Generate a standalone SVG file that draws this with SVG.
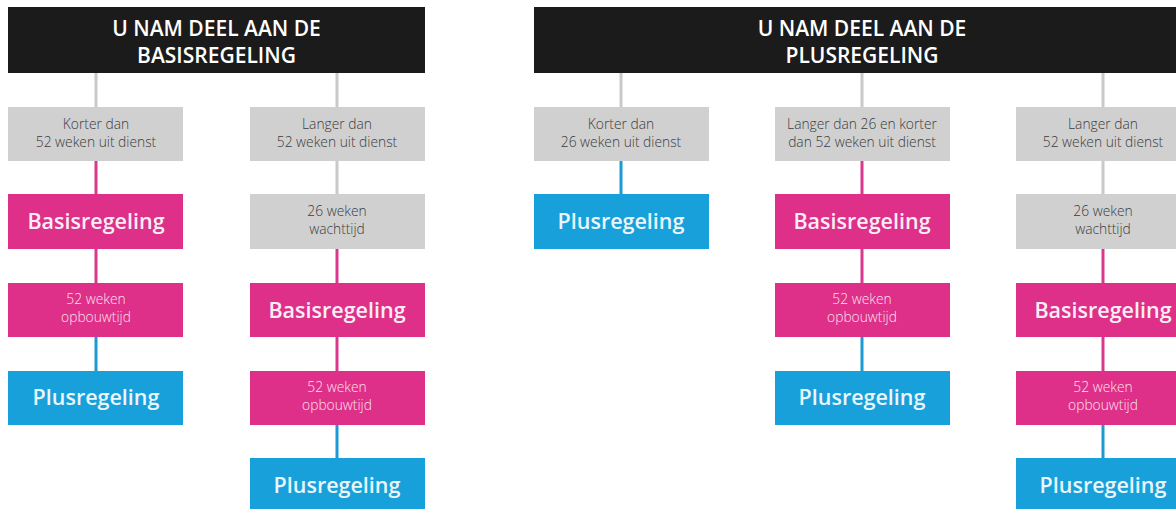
<svg xmlns="http://www.w3.org/2000/svg" width="1176" height="509" viewBox="0 0 1176 509">
<style>
.hdr{fill:#1c1b1b}
.g{fill:#d0d0d0}
.p{fill:#de2f89}
.b{fill:#17a0da}
.ht{font-family:"Open Sans","Liberation Sans",sans-serif;font-size:21px;font-weight:600;fill:#ffffff;text-anchor:middle}
.st{font-family:"Open Sans","Liberation Sans",sans-serif;font-size:13.8px;font-weight:300;fill:#3c3c3c;text-anchor:middle}
.sw{font-family:"Open Sans","Liberation Sans",sans-serif;font-size:13.8px;font-weight:300;fill:#fbe2ef;text-anchor:middle}
.bt{font-family:"Open Sans","Liberation Sans",sans-serif;font-size:21.5px;font-weight:600;fill:#f9eef5;text-anchor:middle}
.btb{font-family:"Open Sans","Liberation Sans",sans-serif;font-size:21.5px;font-weight:600;fill:#eaf6fc;text-anchor:middle}
.lg{stroke:#c9c9c9;stroke-width:3;fill:none}
.lp{stroke:#d8398c;stroke-width:3;fill:none}
.lb{stroke:#1d9ad2;stroke-width:3;fill:none}
</style>
<rect width="1176" height="509" fill="#ffffff"/>
<g id="connectors">
<line class="lg" x1="96" y1="73" x2="96" y2="107"/>
<line class="lp" x1="96" y1="161" x2="96" y2="194"/>
<line class="lp" x1="96" y1="249" x2="96" y2="283"/>
<line class="lb" x1="96" y1="337" x2="96" y2="371"/>
<line class="lg" x1="337" y1="73" x2="337" y2="107"/>
<line class="lg" x1="337" y1="161" x2="337" y2="194"/>
<line class="lp" x1="337" y1="249" x2="337" y2="283"/>
<line class="lp" x1="337" y1="337" x2="337" y2="371"/>
<line class="lb" x1="337" y1="425" x2="337" y2="458"/>
<line class="lg" x1="621" y1="73" x2="621" y2="107"/>
<line class="lb" x1="621" y1="161" x2="621" y2="194"/>
<line class="lg" x1="862" y1="73" x2="862" y2="107"/>
<line class="lp" x1="862" y1="161" x2="862" y2="194"/>
<line class="lp" x1="862" y1="249" x2="862" y2="283"/>
<line class="lb" x1="862" y1="337" x2="862" y2="371"/>
<line class="lg" x1="1103" y1="73" x2="1103" y2="107"/>
<line class="lg" x1="1103" y1="161" x2="1103" y2="194"/>
<line class="lp" x1="1103" y1="249" x2="1103" y2="283"/>
<line class="lp" x1="1103" y1="337" x2="1103" y2="371"/>
<line class="lb" x1="1103" y1="425" x2="1103" y2="458"/>
</g>
<g id="hdr-basis">
<rect class="hdr" x="8" y="7" width="417" height="66"/>
<text class="ht" x="216.5" y="36">U NAM DEEL AAN DE</text>
<text class="ht" x="216.5" y="63">BASISREGELING</text>
</g>
<g id="hdr-plus">
<rect class="hdr" x="534" y="7" width="660" height="66"/>
<text class="ht" x="862" y="36">U NAM DEEL AAN DE</text>
<text class="ht" x="862" y="63">PLUSREGELING</text>
</g>
<g id="l1-korter">
<rect class="g" x="8" y="107" width="175" height="54"/>
<text class="st" x="96" y="129">Korter dan</text>
<text class="st" x="96" y="147">52 weken uit dienst</text>
</g>
<g id="l1-basis">
<rect class="p" x="8" y="194" width="175" height="55"/>
<text class="bt" x="96" y="229">Basisregeling</text>
</g>
<g id="l1-opbouw">
<rect class="p" x="8" y="283" width="175" height="54"/>
<text class="sw" x="96" y="304">52 weken</text>
<text class="sw" x="96" y="322">opbouwtijd</text>
</g>
<g id="l1-plus">
<rect class="b" x="8" y="371" width="175" height="54"/>
<text class="btb" x="96" y="405">Plusregeling</text>
</g>
<g id="l2-langer">
<rect class="g" x="250" y="107" width="175" height="54"/>
<text class="st" x="337" y="129">Langer dan</text>
<text class="st" x="337" y="147">52 weken uit dienst</text>
</g>
<g id="l2-wacht">
<rect class="g" x="250" y="194" width="175" height="55"/>
<text class="st" x="337" y="216">26 weken</text>
<text class="st" x="337" y="234">wachttijd</text>
</g>
<g id="l2-basis">
<rect class="p" x="250" y="283" width="175" height="54"/>
<text class="bt" x="337" y="318">Basisregeling</text>
</g>
<g id="l2-opbouw">
<rect class="p" x="250" y="371" width="175" height="54"/>
<text class="sw" x="337" y="392">52 weken</text>
<text class="sw" x="337" y="410">opbouwtijd</text>
</g>
<g id="l2-plus">
<rect class="b" x="250" y="458" width="175" height="54"/>
<text class="btb" x="337" y="493">Plusregeling</text>
</g>
<g id="r1-korter">
<rect class="g" x="534" y="107" width="175" height="54"/>
<text class="st" x="621" y="129">Korter dan</text>
<text class="st" x="621" y="147">26 weken uit dienst</text>
</g>
<g id="r1-plus">
<rect class="b" x="534" y="194" width="175" height="55"/>
<text class="btb" x="621" y="229">Plusregeling</text>
</g>
<g id="r2-tussen">
<rect class="g" x="775" y="107" width="175" height="54"/>
<text class="st" x="862" y="129">Langer dan 26 en korter</text>
<text class="st" x="862" y="147">dan 52 weken uit dienst</text>
</g>
<g id="r2-basis">
<rect class="p" x="775" y="194" width="175" height="55"/>
<text class="bt" x="862" y="229">Basisregeling</text>
</g>
<g id="r2-opbouw">
<rect class="p" x="775" y="283" width="175" height="54"/>
<text class="sw" x="862" y="304">52 weken</text>
<text class="sw" x="862" y="322">opbouwtijd</text>
</g>
<g id="r2-plus">
<rect class="b" x="775" y="371" width="175" height="54"/>
<text class="btb" x="862" y="405">Plusregeling</text>
</g>
<g id="r3-langer">
<rect class="g" x="1016" y="107" width="175" height="54"/>
<text class="st" x="1103" y="129">Langer dan</text>
<text class="st" x="1103" y="147">52 weken uit dienst</text>
</g>
<g id="r3-wacht">
<rect class="g" x="1016" y="194" width="175" height="55"/>
<text class="st" x="1103" y="216">26 weken</text>
<text class="st" x="1103" y="234">wachttijd</text>
</g>
<g id="r3-basis">
<rect class="p" x="1016" y="283" width="175" height="54"/>
<text class="bt" x="1103" y="318">Basisregeling</text>
</g>
<g id="r3-opbouw">
<rect class="p" x="1016" y="371" width="175" height="54"/>
<text class="sw" x="1103" y="392">52 weken</text>
<text class="sw" x="1103" y="410">opbouwtijd</text>
</g>
<g id="r3-plus">
<rect class="b" x="1016" y="458" width="175" height="54"/>
<text class="btb" x="1103" y="493">Plusregeling</text>
</g>
</svg>
